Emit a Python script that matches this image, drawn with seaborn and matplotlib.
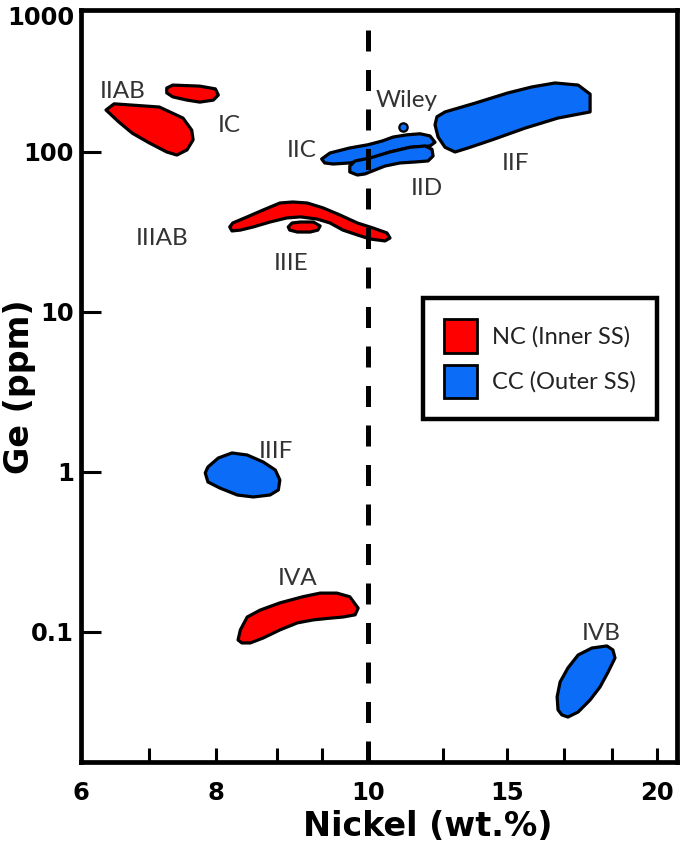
import numpy as np
import seaborn as sns
import matplotlib.pyplot as plt
from matplotlib.patches import Patch
from matplotlib.ticker import NullLocator

# outlines of the iron meteorite groups, Ni (wt.%) vs Ge (ppm)
iiab_ni = [6.37, 6.49, 7.16, 7.51, 7.64, 7.66, 7.57, 7.42, 7.27, 7.01, 6.76, 6.56]
iiab_ge = [183, 200, 191, 163, 137, 119, 103, 95.7, 100, 114, 131, 154]

ic_ni = [7.27, 7.36, 7.76, 7.99, 8.03, 7.96, 7.76, 7.57, 7.36, 7.27]
ic_ge = [251, 262, 258, 248, 227, 211, 205, 211, 221, 234]

iiiab_ni = [8.18, 8.22, 8.41, 8.62, 8.84, 9.01, 9.20, 9.41, 9.63, 9.86, 10.18, 10.68, 10.79,
            10.61, 10.07, 9.86, 9.67, 9.50, 9.33, 9.11, 8.93, 8.71, 8.49, 8.32, 8.21]
iiiab_ge = [34.0, 36.0, 39.3, 43.4, 48.0, 48.7, 48.0, 44.7, 40.4, 36.0, 33.5, 31.2, 29.0,
            27.8, 28.6, 30.3, 32.5, 36.0, 38.1, 39.3, 38.7, 36.5, 34.0, 32.5, 32.1]

iiie_ni = [8.95, 9.00, 9.11, 9.28, 9.37, 9.34, 9.24, 9.07, 8.97]
iiie_ge = [34.0, 36.0, 36.5, 36.5, 34.5, 32.5, 31.6, 31.6, 32.5]

iva_ni = [8.29, 8.32, 8.41, 8.58, 8.84, 9.14, 9.37, 9.59, 9.76, 9.87, 9.83, 9.67, 9.50,
          9.28, 9.07, 8.84, 8.62, 8.45, 8.34]
iva_ge = [0.0891, 0.103, 0.124, 0.137, 0.152, 0.166, 0.175, 0.175, 0.166, 0.141, 0.128,
          0.124, 0.122, 0.119, 0.114, 0.103, 0.0917, 0.0854, 0.0854]

iif_ni = [12.41, 12.48, 12.77, 13.85, 15.03, 15.83, 16.60, 17.37, 17.77, 17.77, 16.70,
          15.60, 14.46, 13.60, 13.13, 12.77, 12.52]
iif_ge = [148, 166, 178, 202, 234, 255, 270, 262, 230, 178, 163, 141, 119, 106, 100, 107, 124]

iic_ni = [9.39, 9.50, 9.76, 10.00, 10.50, 10.90, 11.40, 11.87, 12.23, 12.41, 12.23, 11.51,
          10.79, 10.07, 9.76, 9.54, 9.43]
iic_ge = [90.4, 98.6, 106, 111, 117, 124, 128, 130, 126, 115, 109, 107, 100, 90.4, 85.4,
          84.1, 85.4]

iid_ni = [9.76, 9.83, 10.07, 10.79, 11.51, 12.05, 12.30, 12.34, 12.16, 11.69, 11.15, 10.61,
          10.25, 9.96, 9.86, 9.76]
iid_ge = [81.7, 87.9, 91.7, 100, 107, 109, 104, 94.4, 87.9, 86.6, 85.4, 81.7, 77.2, 72.9,
          71.8, 75.0]

iiif_ni = [7.84, 7.88, 8.03, 8.21, 8.41, 8.62, 8.78, 8.84, 8.82, 8.71, 8.49, 8.28, 8.05, 7.88]
iiif_ge = [0.986, 1.075, 1.223, 1.315, 1.277, 1.155, 1.029, 0.891, 0.772, 0.718, 0.698,
           0.718, 0.794, 0.866]

ivb_ni = [16.70, 16.67, 16.77, 17.03, 17.37, 17.83, 18.33, 18.53, 18.60, 18.37, 18.10,
          17.77, 17.37, 17.03, 16.83]
ivb_ge = [0.0326, 0.0393, 0.0487, 0.0596, 0.0718, 0.0794, 0.0818, 0.0772, 0.0688, 0.0562,
          0.0453, 0.0376, 0.0316, 0.0294, 0.0303]

wiley_ni = [11.27]
wiley_ge = [144]

# group name labels (Ni, Ge at baseline)
label_names = ["IIAB", "IC", "IIC", "Wiley", "IID", "IIF", "IIIAB", "IIIE", "IIIF", "IVA", "IVB"]
label_ni = [6.62, 8.17, 9.13, 11.40, 12.12, 15.27, 7.20, 8.99, 8.79, 9.07, 18.13]
label_ge = [217, 134, 93.5, 192, 53.8, 77.2, 26.2, 18.3, 1.22, 0.197, 0.0891]

nc_groups = [(iiab_ni, iiab_ge), (ic_ni, ic_ge), (iiiab_ni, iiiab_ge), (iiie_ni, iiie_ge),
             (iva_ni, iva_ge)]
cc_groups = [(iif_ni, iif_ge), (iic_ni, iic_ge), (iid_ni, iid_ge), (iiif_ni, iiif_ge),
             (ivb_ni, ivb_ge)]

NC_RED = "#ff0000"
CC_BLUE = "#0a6cf7"

# the hand drawn Ni axis is stretched piecewise
ni_knots = [0, 6, 8, 10, 15, 20, 40]
axis_pos = [-405, 0, 135, 287, 426, 576, 1176]


def ni_fwd(v):
    return np.interp(v, ni_knots, axis_pos)


def ni_inv(p):
    return np.interp(p, axis_pos, ni_knots)


sns.set_theme(style="white")
plt.rcParams["font.family"] = ["DejaVu Sans"]
plt.rcParams["text.color"] = "black"
plt.rcParams["axes.labelcolor"] = "black"
plt.rcParams["xtick.color"] = "black"
plt.rcParams["ytick.color"] = "black"

fig = plt.figure(figsize=(6.85, 8.6), dpi=100)
ax = fig.add_axes([0.1183, 0.1134, 0.8693, 0.875])
ax.set_xscale("function", functions=(ni_fwd, ni_inv))
ax.set_yscale("log")
ax.set_xlim(6, 20.65)
ax.set_ylim(0.01529, 772)

for ni, ge in nc_groups:
    ax.fill(ni, ge, facecolor=NC_RED, edgecolor="black", linewidth=2.3, joinstyle="round", zorder=2)
for ni, ge in cc_groups:
    ax.fill(ni, ge, facecolor=CC_BLUE, edgecolor="black", linewidth=2.3, joinstyle="round", zorder=2)

sns.scatterplot(x=wiley_ni, y=wiley_ge, ax=ax, s=36, color=CC_BLUE, edgecolor="black",
                linewidth=1.6, zorder=3, legend=False)

ax.axvline(10, color="black", linewidth=3.6, dashes=(4.2, 3.7), zorder=4)

for name, x, y in zip(label_names, label_ni, label_ge):
    ax.text(x, y, name, ha="center", va="baseline", fontsize=17.5, family="Lato",
            color="#333333", zorder=5)

# axes frame and ticks
for sp in ax.spines.values():
    sp.set_linewidth(3.4)
    sp.set_color("black")

ax.set_xticks([6, 8, 10, 15, 20])
ax.set_xticklabels(["6", "8", "10", "15", "20"])
ax.set_xticks([7, 8.8, 9.4, 12.7, 16.9, 18.5], minor=True)
ax.tick_params(axis="x", which="both", direction="in", length=10, width=2.2, colors="black",
               bottom=True, pad=13.5)
ax.tick_params(axis="x", which="major", labelsize=17.5)

ax.set_yticks([0.1, 1, 10, 100, 708])
ax.set_yticklabels(["0.1", "1", "10", "100", "1000"])
ax.yaxis.set_minor_locator(NullLocator())
ax.tick_params(axis="y", which="major", direction="in", length=14.5, width=2.2, colors="black",
               left=True, pad=5, labelsize=17.5)
ax.yaxis.get_major_ticks()[-1].tick1line.set_visible(False)

for lab in ax.get_xticklabels() + ax.get_yticklabels():
    lab.set_fontweight("bold")
    lab.set_color("black")

ax.set_xlabel("Nickel (wt.%)", fontsize=24, fontweight="bold", color="black")
ax.set_ylabel("Ge (ppm)", fontsize=24, fontweight="bold", color="black")
ax.xaxis.set_label_coords(0.582, -0.063)
ax.yaxis.set_label_coords(-0.0756, 0.5)

handles = [Patch(facecolor=NC_RED, edgecolor="black", linewidth=2),
           Patch(facecolor=CC_BLUE, edgecolor="black", linewidth=2)]
leg = ax.legend(handles, ["NC (Inner SS)", "CC (Outer SS)"], loc="upper left",
                bbox_to_anchor=(0.574, 0.617), frameon=True, fancybox=False,
                edgecolor="black", framealpha=1, handlelength=1.4, handleheight=1.78,
                handletextpad=0.62, labelspacing=0.52, borderpad=0.9, borderaxespad=0,
                prop={"family": "Lato", "size": 17})
leg.get_frame().set_linewidth(3.2)
leg.set_zorder(6)
for t in leg.get_texts():
    t.set_color("#222222")

fig.savefig("out.png", dpi=100)
